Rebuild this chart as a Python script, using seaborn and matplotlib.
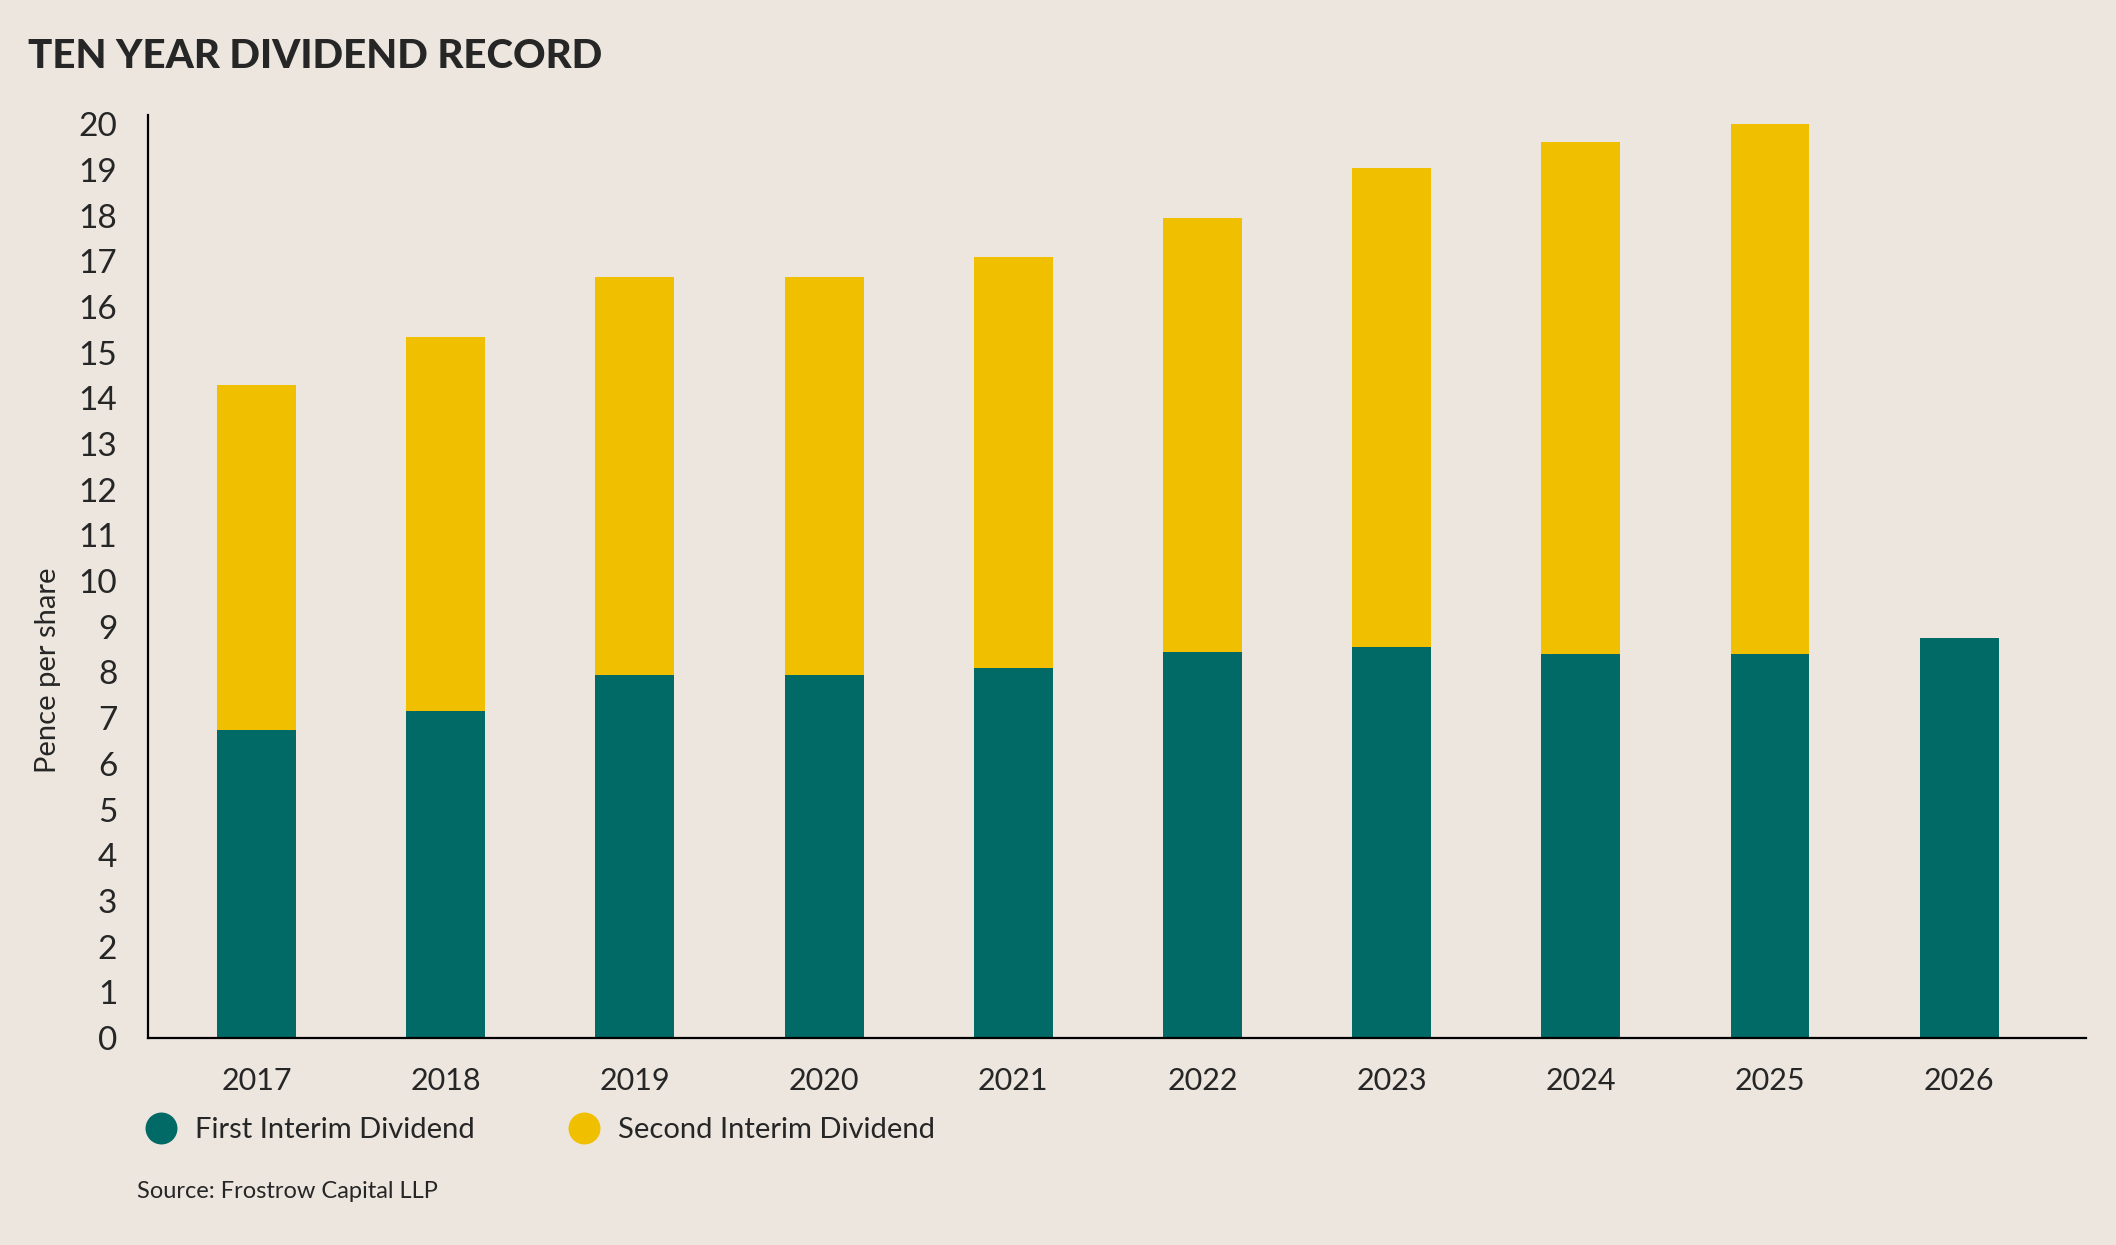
import numpy as np
import pandas as pd
import seaborn as sns
import matplotlib.pyplot as plt
from matplotlib.lines import Line2D

years = ['2017', '2018', '2019', '2020', '2021', '2022', '2023', '2024', '2025', '2026']
first_interim = [6.75, 7.15, 7.95, 7.95, 8.10, 8.45, 8.55, 8.40, 8.40, 8.75]
second_interim = [7.55, 8.20, 8.70, 8.70, 9.00, 9.50, 10.50, 11.20, 11.60, 0.0]
ytick_vals = list(range(0, 21))

bg = '#ECE6DF'
teal = '#016966'
yellow = '#F0C000'

sns.set_style('white')
plt.rcParams['font.family'] = ['Lato', 'DejaVu Sans']

df = pd.DataFrame({'year': years,
                   'first': first_interim,
                   'second': second_interim})
df['total'] = df['first'] + df['second']

fig = plt.figure(figsize=(21.16, 12.45), dpi=100, facecolor=bg)
ax = fig.add_axes([0.0699, 0.1663, 0.9159, 0.7413])
ax.set_facecolor(bg)

# stacked: total in yellow, first interim drawn on top in teal
sns.barplot(data=df, x='year', y='total', color=yellow, saturation=1,
            width=0.417, ax=ax, linewidth=0)
sns.barplot(data=df, x='year', y='first', color=teal, saturation=1,
            width=0.417, ax=ax, linewidth=0)

ax.set_xlim(-0.574, 9.67)
ax.set_ylim(0, 20.2)
ax.set_yticks(ytick_vals)
ax.set_yticklabels([str(v) for v in ytick_vals], fontsize=24)
ax.tick_params(axis='y', length=0, pad=22)
ax.tick_params(axis='x', length=0, pad=21, labelsize=22)
ax.set_xlabel('')
ax.set_ylabel('Pence per share', fontsize=21)
ax.yaxis.set_label_coords(-0.045, 0.398)

for s in ['top', 'right']:
    ax.spines[s].set_visible(False)
for s in ['left', 'bottom']:
    ax.spines[s].set_color('black')
    ax.spines[s].set_linewidth(1.6)

fig.text(0.0131, 0.955, 'TEN YEAR DIVIDEND RECORD', fontsize=29,
         fontweight='black', ha='left', va='center')

handles = [Line2D([], [], marker='o', linestyle='', markersize=23,
                  markerfacecolor=teal, markeredgewidth=0),
           Line2D([], [], marker='o', linestyle='', markersize=23,
                  markerfacecolor=yellow, markeredgewidth=0)]
fig.legend(handles, ['First Interim Dividend', 'Second Interim Dividend'],
           loc='center left', bbox_to_anchor=(0.068, 0.0924), ncol=2,
           frameon=False, fontsize=21, handlelength=1.2, handletextpad=0.55,
           columnspacing=3.15, borderpad=0, borderaxespad=0)

fig.text(0.0647, 0.0428, 'Source: Frostrow Capital LLP', fontsize=17,
         ha='left', va='center')

plt.savefig('out.png', dpi=100, facecolor=bg)
